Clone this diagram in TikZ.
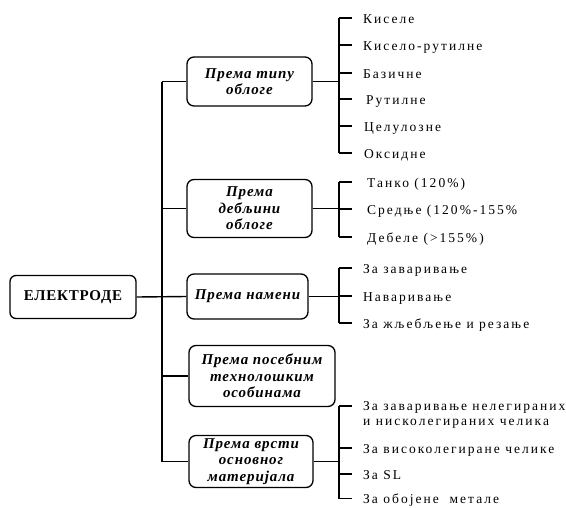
\documentclass[tikz,border=0pt]{standalone}
\usepackage{fontspec}
\setmainfont{Liberation Serif}[Script=Cyrillic,Language=Serbian]
\newfontfamily\itemfont{Liberation Serif}[Script=Cyrillic,Language=Serbian,LetterSpace=15]
\newfontfamily\boxfont{Liberation Serif}[Script=Cyrillic,Language=Serbian,LetterSpace=6]
\newfontfamily\rootfont{Liberation Serif}[Script=Cyrillic,Language=Serbian,LetterSpace=5]
\begin{document}
\begin{tikzpicture}[x=1pt,y=-1pt,
  line/.style={line width=1.4pt,draw=black},
  rootbox/.style={draw=black,line width=1.3pt,rounded corners=6pt,minimum width=126pt,minimum height=43pt,
     font=\rootfont\fontsize{15}{17}\selectfont\bfseries},
  catbox/.style={draw=black,line width=1.3pt,rounded corners=7pt,minimum width=125pt,align=center,inner sep=1pt,
     font=\boxfont\fontsize{15}{16.5}\selectfont\bfseries\itshape},
  itemtext/.style={inner xsep=11pt,inner ysep=0pt,font=\itemfont\fontsize{13.5}{15}\selectfont,align=left},
  item/.style={itemtext,anchor=west,text height=10pt,text depth=0pt},
  itemb/.style={item,inner xsep=15pt}
]
\useasboundingbox (0,0) rectangle (566,507);

% root
\node[rootbox] (el) at (73,297) {ЕЛЕКТРОДЕ};

% categories
\node[catbox,minimum height=49pt] (b1) at (249.5,81.5) {Према типу\\облоге};
\node[catbox,minimum height=58pt] (b2) at (249.5,208.5) {Према\\дебљини\\облоге};
\node[catbox,minimum width=121pt,minimum height=45pt] (b3) at (247.5,296.5) {Према намени};
\node[catbox,minimum width=146pt,minimum height=61pt] (b4) at (262,376) {Према посебним\\технолошким\\особинама};
\node[catbox,minimum width=124pt,minimum height=52pt] (b5) at (251,461.5) {Према врсти\\основног\\материјала};

% trunk
\coordinate (tr) at (162,297);
\draw[line] (el.east) -- (b3.west);
\draw[line] (b1.west -| tr) -- (b5.west -| tr);
\foreach \b in {b1,b2,b4,b5} \draw[line] (\b.west) -- (\b.west -| tr);

% bracket column
\coordinate (br) at (339,0);

% group 1
\node[item] (k1) at (352,18) {Киселе};
\node[item] (k2) at (352,45) {Кисело-рутилне};
\node[item] (k3) at (352,73) {Базичне};
\node[item,inner xsep=14pt] (k4) at (352,99) {Рутилне};
\node[item,inner xsep=12pt] (k5) at (352,126) {Целулозне};
\node[item,inner xsep=12pt] (k6) at (352,153) {Оксидне};
\draw[line] (b1.east) -- (b1.east -| br);
\draw[line] (k1.west -| br) -- (k6.west -| br);
\foreach \k in {k1,k2,k3,k4,k5,k6} \draw[line] (\k.west -| br) -- (\k.west);

% group 2
\node[itemb] (d1) at (352,182) {Танко (120\%)};
\node[itemb] (d2) at (352,209) {Средње (120\%-155\%};
\node[itemb] (d3) at (352,237) {Дебеле (>155\%)};
\draw[line] (b2.east) -- (b2.east -| br);
\draw[line] (d1.west -| br) -- (d3.west -| br);
\foreach \k in {d1,d2,d3} \draw[line] (\k.west -| br) -- (\k.west);

% group 3
\node[item] (n1) at (352,268) {За заваривање};
\node[item] (n2) at (352,296) {Наваривање};
\node[item] (n3) at (352,323) {За жљебљење и резање};
\draw[line] (b3.east) -- (b3.east -| br);
\draw[line] (n1.west -| br) -- (n3.west -| br);
\foreach \k in {n1,n2,n3} \draw[line] (\k.west -| br) -- (\k.west);

% group 4
\node[itemtext,anchor=north west] (m1) at (352,401.5) {За заваривање нелегираних\\и нисколегираних челика};
\coordinate (m1t) at (352,406);
\node[item] (m2) at (352,448) {За високолегиране челике};
\node[item] (m3) at (352,474) {За SL};
\node[item] (m4) at (352,498.5) {За обојене\ \ метале};
\draw[line] (b5.east) -- (b5.east -| br);
\draw[line] (m1t -| br) -- (m4.west -| br);
\draw[line] (m1t -| br) -- (m1t);
\foreach \k in {m2,m3,m4} \draw[line] (\k.west -| br) -- (\k.west);
\end{tikzpicture}
\end{document}
